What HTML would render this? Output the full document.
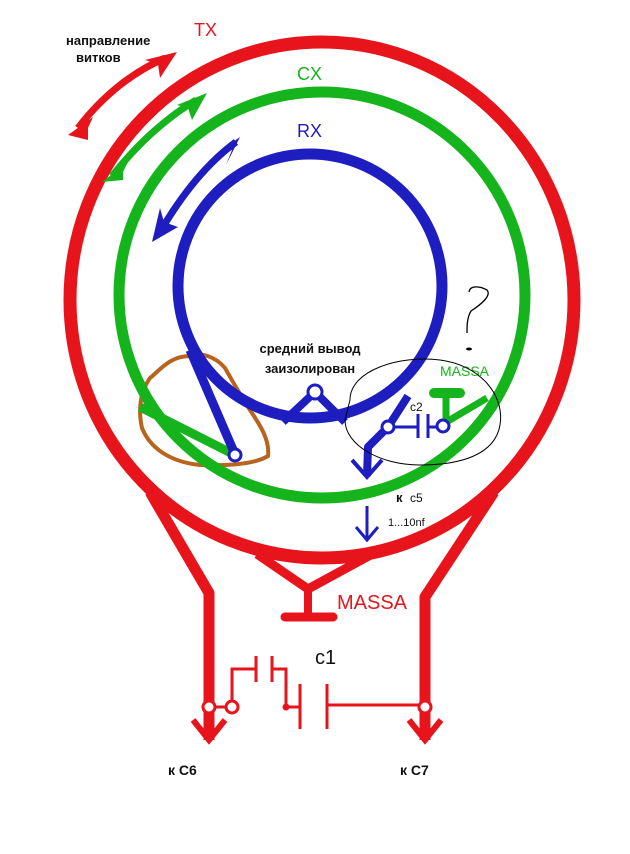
<!DOCTYPE html>
<html><head><meta charset="utf-8"><style>
html,body{margin:0;padding:0;background:#fff;}
svg{display:block;}
text{font-family:"Liberation Sans","DejaVu Sans",sans-serif;}
</style></head><body>
<svg width="630" height="854" viewBox="0 0 630 854" xmlns="http://www.w3.org/2000/svg">
<!-- brown blob -->
<path d="M190,356 C170,356 160,370 150,378 C140,392 138,410 142,428 C150,448 170,462 200,465 C230,466 255,464 268,456 C270,440 260,425 250,410 C240,395 232,380 225,368 C215,356 200,352 190,356 Z" fill="none" stroke="#b8641e" stroke-width="4"/>
<!-- Red ring -->
<ellipse cx="322" cy="300" rx="252" ry="258" fill="none" stroke="#e8141c" stroke-width="13"/>
<!-- red legs -->
<polyline points="150,492 209,593 209,740" fill="none" stroke="#e8141c" stroke-width="11" stroke-linejoin="round"/>
<polyline points="494,492 425,597 425,740" fill="none" stroke="#e8141c" stroke-width="11" stroke-linejoin="round"/>
<polyline points="193,720 209,740 225,720" fill="none" stroke="#e8141c" stroke-width="6"/>
<polyline points="409,720 425,740 441,720" fill="none" stroke="#e8141c" stroke-width="6"/>
<!-- Y to massa -->
<path d="M257,554 L308,589 L376,552" fill="none" stroke="#e8141c" stroke-width="9" stroke-linejoin="round"/>
<line x1="308" y1="587" x2="308" y2="616" stroke="#e8141c" stroke-width="8"/>
<line x1="285" y1="617" x2="333" y2="617" stroke="#e8141c" stroke-width="9" stroke-linecap="round"/>
<text x="337" y="609" font-size="20" fill="#e8141c">MASSA</text>
<!-- c1 -->
<g stroke="#e8141c" stroke-width="3" fill="none">
<polyline points="232,701 232,669 256,669"/>
<line x1="256" y1="656" x2="256" y2="682"/>
<line x1="272" y1="656" x2="272" y2="682"/>
<polyline points="272,669 286,669 286,707 300,707"/>
<line x1="300" y1="684" x2="300" y2="729"/>
<line x1="327" y1="684" x2="327" y2="729"/>
<line x1="327" y1="705" x2="420" y2="705"/>
<line x1="216" y1="707" x2="226" y2="707"/>
</g>
<circle cx="286" cy="707" r="3.5" fill="#e8141c"/>
<circle cx="209" cy="707" r="6" fill="#fff" stroke="#e8141c" stroke-width="3"/>
<circle cx="232" cy="707" r="6" fill="#fff" stroke="#e8141c" stroke-width="3"/>
<circle cx="425" cy="707" r="6" fill="#fff" stroke="#e8141c" stroke-width="3"/>
<text x="315" y="664" font-size="20" fill="#111">c1</text>
<text x="168" y="775" font-size="14" font-weight="bold" fill="#111">к C6</text>
<text x="400" y="775" font-size="14" font-weight="bold" fill="#111">к C7</text>
<!-- Green ring -->
<circle cx="322" cy="295" r="203" fill="none" stroke="#16b41c" stroke-width="11"/>
<line x1="140" y1="407" x2="233" y2="454" stroke="#16b41c" stroke-width="9"/>
<line x1="443" y1="424" x2="487" y2="398" stroke="#16b41c" stroke-width="7"/>
<line x1="446" y1="395" x2="446" y2="420" stroke="#16b41c" stroke-width="7"/>
<line x1="434" y1="393" x2="460" y2="393" stroke="#16b41c" stroke-width="10" stroke-linecap="round"/>
<text x="440" y="376" font-size="14" fill="#16b41c">MASSA</text>
<!-- Blue ring -->
<circle cx="310" cy="286" r="132" fill="none" stroke="#1e1ec0" stroke-width="11"/>
<line x1="190" y1="350" x2="234" y2="452" stroke="#1e1ec0" stroke-width="9"/>
<polyline points="283,422 315,392 345,422" fill="none" stroke="#1e1ec0" stroke-width="8" stroke-linejoin="round"/>
<polyline points="408,396 388,427 368,447 367,476" fill="none" stroke="#1e1ec0" stroke-width="8" stroke-linejoin="round"/>
<polyline points="352,460 367,477 382,460" fill="none" stroke="#1e1ec0" stroke-width="4"/>
<g stroke="#1e1ec0" stroke-width="3">
<line x1="394" y1="427" x2="418" y2="427"/>
<line x1="418" y1="414" x2="418" y2="438"/>
<line x1="428" y1="414" x2="428" y2="438"/>
<line x1="428" y1="427" x2="437" y2="427"/>
<line x1="367" y1="506" x2="367" y2="540"/>
</g>
<polyline points="356,527 367,540 378,527" fill="none" stroke="#1e1ec0" stroke-width="3"/>
<circle cx="315" cy="392" r="7" fill="#fff" stroke="#1e1ec0" stroke-width="3"/>
<circle cx="235" cy="455" r="6" fill="#fff" stroke="#1e1ec0" stroke-width="3"/>
<circle cx="388" cy="427" r="6" fill="#fff" stroke="#1e1ec0" stroke-width="3"/>
<circle cx="443" cy="426" r="6" fill="#fff" stroke="#1e1ec0" stroke-width="3"/>
<text x="410" y="411" font-size="12" fill="#111">c2</text>
<text x="396" y="502" font-size="13" font-weight="bold" fill="#111">к</text>
<text x="410" y="502" font-size="12" fill="#111">c5</text>
<text x="388" y="526" font-size="11" fill="#111">1...10nf</text>
<!-- ellipse -->
<path d="M350,400 C350,370 400,355 440,360 C480,365 505,395 500,425 C495,455 460,465 420,465 C380,465 345,445 345,420 Z" fill="none" stroke="#000" stroke-width="1"/>
<!-- question mark -->
<path d="M469,292 C470,285 480,286 487,290 C492,296 480,305 471,311 C467,318 467,325 467,333" fill="none" stroke="#000" stroke-width="1.3"/>
<ellipse cx="469" cy="349" rx="3" ry="1.5" fill="#000"/>
<!-- direction arrows -->
<path d="M78,128 Q115,80 165,58" fill="none" stroke="#e8141c" stroke-width="7"/>
<polygon points="177,52 145,60 158,64 160,78" fill="#e8141c"/>
<polygon points="68,135 93,117 88,128 88,140" fill="#e8141c"/>
<path d="M112,176 Q150,128 196,100" fill="none" stroke="#16b41c" stroke-width="7"/>
<polygon points="207,93 177,105 188,108 192,120" fill="#16b41c"/>
<polygon points="102,182 128,162 123,172 123,180" fill="#16b41c"/>
<path d="M236,142 Q195,172 160,232" fill="none" stroke="#1e1ec0" stroke-width="7"/>
<polygon points="152,242 160,208 164,222 178,227" fill="#1e1ec0"/>
<polygon points="240,137 222,150 232,150 226,165" fill="#1e1ec0"/>
<text x="66" y="45" font-size="13" font-weight="bold" fill="#111">направление</text>
<text x="76" y="62" font-size="13" font-weight="bold" fill="#111">витков</text>
<text x="194" y="36" font-size="18" fill="#e8141c">TX</text>
<text x="297" y="80" font-size="18" fill="#16b41c">CX</text>
<text x="297" y="137" font-size="18" fill="#1e1ec0">RX</text>
<text x="310" y="353" font-size="13" font-weight="bold" fill="#111" text-anchor="middle">средний вывод</text>
<text x="310" y="373" font-size="13" font-weight="bold" fill="#111" text-anchor="middle">заизолирован</text>
</svg>
</body></html>
